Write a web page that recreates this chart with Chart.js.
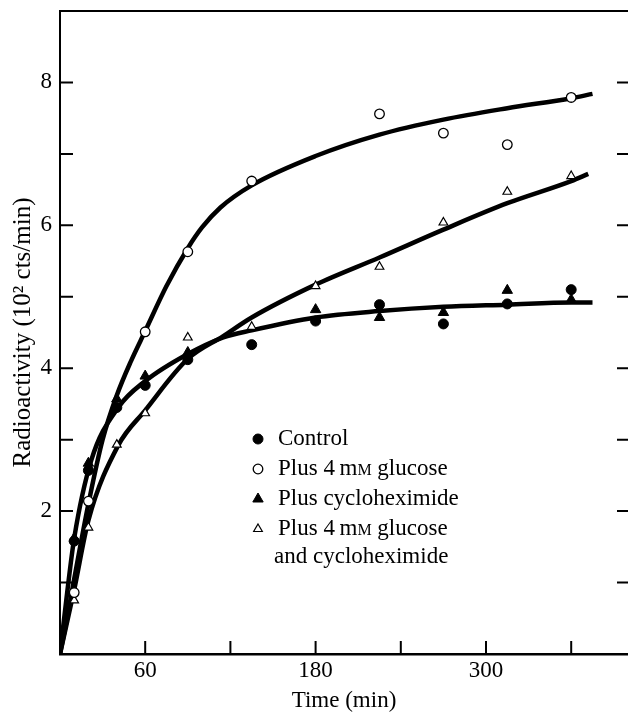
<!DOCTYPE html>
<html>
<head>
<meta charset="utf-8">
<title>Radioactivity uptake</title>
<script src="https://cdn.jsdelivr.net/npm/chart.js@4.4.0/dist/chart.umd.min.js"></script>
<style>
  html, body { margin: 0; padding: 0; background: #fff; overflow: hidden; }
  #wrap { width: 628px; height: 712px; }
  canvas { display: block; }
</style>
</head>
<body>
<div id="wrap"><canvas id="chart" width="628" height="712"></canvas></div>
<script>
// Ölçülen noktalar (dakika / 10^2 cts/min)
const times = [10, 20, 40, 60, 90, 135, 180, 225, 270, 315, 360];
const control = [1.58, 2.57, 3.45, 3.76, 4.12, 4.33, 4.66, 4.89, 4.62, 4.90, 5.10];
const glucose = [0.86, 2.14, null, 4.51, 5.63, 6.62, null, 7.56, 7.29, 7.13, 7.79];
const cyclo = [1.62, 2.67, 3.57, 3.89, 4.22, null, 4.82, 4.71, 4.78, 5.09, 4.96];
const glucoseCyclo = [0.75, 1.77, 2.93, 3.37, 4.43, 4.58, 5.15, 5.42, 6.04, 6.47, 6.69];

// Elle çizilmiş eğriler
const glucoseCurveX = [0, 5, 10, 20, 30, 40, 50, 60, 75, 90, 100, 113, 135, 180, 225, 270, 315, 360, 375];
const glucoseCurveY = [0, 0.5, 1.05, 2.1, 3.0, 3.62, 4.1, 4.52, 5.15, 5.68, 5.97, 6.25, 6.56, 6.97, 7.27, 7.48, 7.64, 7.78, 7.84];
const controlCurveX = [0, 5, 10, 22, 41, 60, 90, 115, 135, 180, 225, 270, 315, 360, 375];
const controlCurveY = [0, 0.85, 1.62, 2.71, 3.45, 3.82, 4.2, 4.43, 4.53, 4.71, 4.80, 4.86, 4.89, 4.92, 4.92];
const glucoseCycloCurveX = [0, 10, 20, 41, 60, 90, 115, 135, 180, 225, 270, 315, 360, 372];
const glucoseCycloCurveY = [0, 0.9, 1.87, 2.92, 3.41, 4.13, 4.45, 4.71, 5.17, 5.55, 5.94, 6.31, 6.62, 6.72];

const xTickLabels = [60, 180, 300];
const yTickLabels = [2, 4, 6, 8];
const legendLabels = ['Control', 'Plus 4\u2009mM glucose', 'Plus cycloheximide', 'Plus 4\u2009mM glucose', 'and cycloheximide'];

const FONT = "'Liberation Serif', 'Times New Roman', serif";

function toPoints(xs, ys) {
    const out = [];
    for (let i = 0; i < xs.length; i++) {
        if (ys[i] !== null) out.push({ x: xs[i], y: ys[i] });
    }
    return out;
}

function curve(xs, ys) {
    return {
        type: 'line',
        data: toPoints(xs, ys),
        borderColor: '#000',
        borderWidth: 4.5,
        pointRadius: 0,
        cubicInterpolationMode: 'monotone',
        fill: false,
        order: 10
    };
}

const markerStyles = [
    { pointStyle: 'circle', pointRadius: 5, pointBackgroundColor: '#000', pointBorderColor: '#000', pointBorderWidth: 1 },
    { pointStyle: 'circle', pointRadius: 4.8, pointBackgroundColor: '#fff', pointBorderColor: '#000', pointBorderWidth: 1.3 },
    { pointStyle: 'triangle', pointRadius: 6, pointBackgroundColor: '#000', pointBorderColor: '#000', pointBorderWidth: 1 },
    { pointStyle: 'triangle', pointRadius: 5, pointBackgroundColor: '#fff', pointBorderColor: '#000', pointBorderWidth: 1.2 }
];

function markers(ys, idx) {
    return Object.assign({
        type: 'scatter',
        data: toPoints(times, ys),
        showLine: false,
        order: 1
    }, markerStyles[idx]);
}

// Kenar çizgisi ve içe dönük tik işaretleri
const frameTicks = {
    id: 'frameTicks',
    afterDraw(chart) {
        const ctx = chart.ctx;
        const a = chart.chartArea;
        const xs = chart.scales.x;
        const ys = chart.scales.y;
        ctx.save();
        ctx.strokeStyle = '#000';
        ctx.lineWidth = 2;
        ctx.beginPath();
        ctx.moveTo(a.left, a.top);
        ctx.lineTo(a.right, a.top);
        for (let v = 1; v <= 8; v++) {
            const py = ys.getPixelForValue(v);
            ctx.moveTo(a.left, py);
            ctx.lineTo(a.left + 13, py);
            ctx.moveTo(a.right - 11, py);
            ctx.lineTo(a.right, py);
        }
        for (let v = 60; v <= 360; v += 60) {
            const px = xs.getPixelForValue(v);
            ctx.moveTo(px, a.bottom);
            ctx.lineTo(px, a.bottom - 13);
        }
        ctx.stroke();
        ctx.restore();
    }
};

// Grafik içindeki açıklama kutusu
const insideLegend = {
    id: 'insideLegend',
    afterDraw(chart) {
        const ctx = chart.ctx;
        const rows = [439, 469, 499, 529, 557];
        const markerX = 258;
        const textX = 278;
        ctx.save();
        ctx.fillStyle = '#000';
        ctx.textBaseline = 'middle';
        legendLabels.forEach(function(label, i) {
            const y = rows[i];
            if (i < 4) {
                const s = markerStyles[i];
                ctx.fillStyle = s.pointBackgroundColor;
                ctx.strokeStyle = s.pointBorderColor;
                ctx.lineWidth = s.pointBorderWidth;
                Chart.helpers.drawPoint(ctx, { pointStyle: s.pointStyle, radius: s.pointRadius, borderWidth: s.pointBorderWidth, rotation: 0 }, markerX, y);
            }
            ctx.fillStyle = '#000';
            const x0 = i === 4 ? textX - 4 : textX;
            const k = label.indexOf('mM');
            if (k < 0) {
                ctx.font = '23px ' + FONT;
                ctx.fillText(label, x0, y);
            } else {
                // küçük büyük harf M
                const head = label.slice(0, k + 1);
                const tail = label.slice(k + 2);
                ctx.font = '23px ' + FONT;
                ctx.fillText(head, x0, y);
                let x = x0 + ctx.measureText(head).width;
                ctx.font = '16px ' + FONT;
                ctx.fillText('M', x, y + 2);
                x += ctx.measureText('M').width;
                ctx.font = '23px ' + FONT;
                ctx.fillText(tail, x, y);
            }
        });
        ctx.restore();
    }
};

function initChart() {
    const ctx = document.getElementById('chart');
    new Chart(ctx, {
        type: 'scatter',
        data: {
            datasets: [
                markers(control, 0),
                markers(glucose, 1),
                markers(cyclo, 2),
                markers(glucoseCyclo, 3),
                curve(glucoseCurveX, glucoseCurveY),
                curve(controlCurveX, controlCurveY),
                curve(glucoseCycloCurveX, glucoseCycloCurveY)
            ]
        },
        options: {
            responsive: false,
            animation: false,
            layout: { autoPadding: false, padding: { top: 11, right: 0, left: 0, bottom: 0 } },
            plugins: {
                legend: { display: false },
                tooltip: { enabled: false }
            },
            scales: {
                x: {
                    type: 'linear',
                    min: 0,
                    max: 400,
                    afterFit: function(s) {
                        s.height = 58;
                        s.paddingLeft = 0;
                        s.paddingRight = 0;
                    },
                    grid: { display: false, drawTicks: false },
                    border: { display: true, color: '#000', width: 2.5 },
                    ticks: {
                        stepSize: 60,
                        autoSkip: false,
                        maxRotation: 0,
                        padding: 3,
                        color: '#000',
                        font: { family: FONT, size: 23 },
                        callback: function(v) { return xTickLabels.includes(v) ? String(v) : ''; }
                    },
                    title: {
                        display: true,
                        text: 'Time (min)',
                        color: '#000',
                        font: { family: FONT, size: 23, lineHeight: 1 },
                        padding: { top: 0, bottom: 0 }
                    }
                },
                y: {
                    type: 'linear',
                    min: 0,
                    max: 9,
                    afterFit: function(s) {
                        s.width = 60;
                        s.paddingTop = 0;
                        s.paddingBottom = 0;
                    },
                    grid: { display: false, drawTicks: false },
                    border: { display: true, color: '#000', width: 2 },
                    ticks: {
                        stepSize: 1,
                        autoSkip: false,
                        padding: 8,
                        color: '#000',
                        font: { family: FONT, size: 23 },
                        callback: function(v) { return yTickLabels.includes(v) ? String(v) : ''; }
                    },
                    title: {
                        display: true,
                        text: 'Radioactivity (10\u00b2 cts/min)',
                        color: '#000',
                        font: { family: FONT, size: 25, lineHeight: 1 },
                        padding: { top: 11, bottom: 0 }
                    }
                }
            }
        },
        plugins: [frameTicks, insideLegend]
    });
}

document.addEventListener('DOMContentLoaded', initChart);
</script>
</body>
</html>
